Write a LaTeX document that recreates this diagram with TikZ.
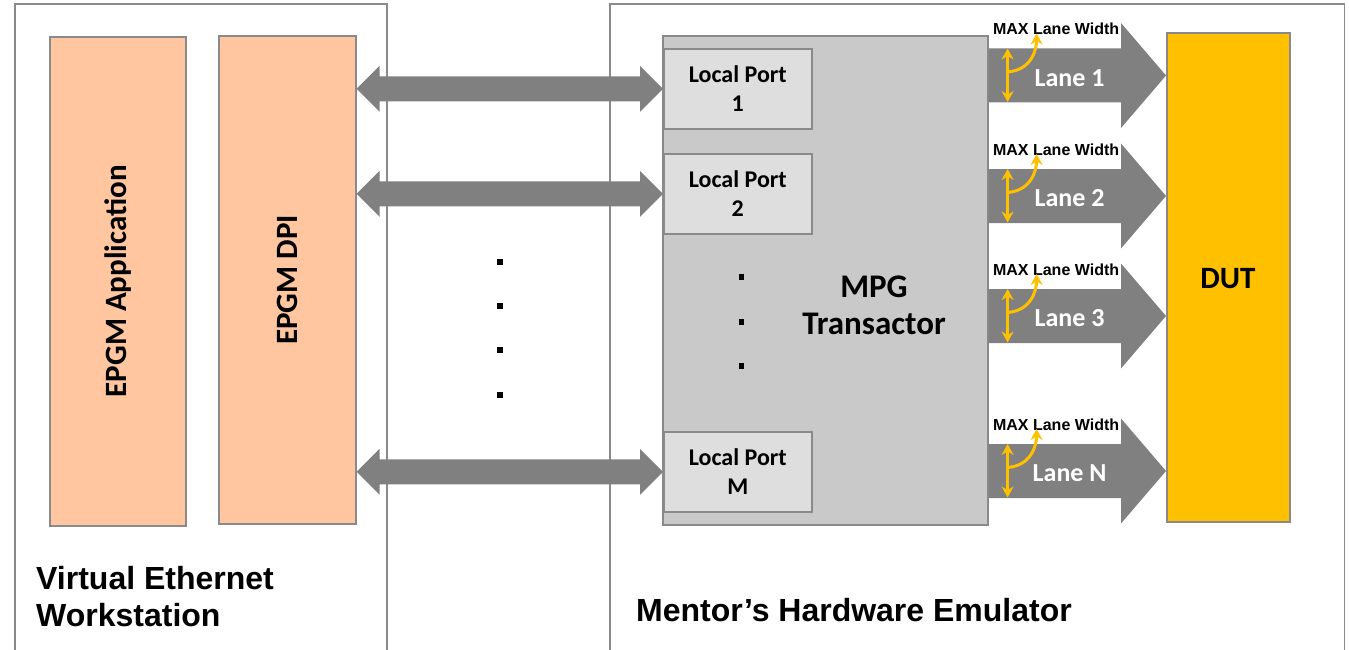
\documentclass[tikz,border=0pt]{standalone}
\usepackage{fontspec}
\setmainfont{Carlito}
\newfontfamily\arialfont{Liberation Sans}
\usetikzlibrary{arrows.meta,calc}
\definecolor{peach}{HTML}{FFC6A0}
\definecolor{mpggray}{HTML}{C9C9C9}
\definecolor{portgray}{HTML}{DEDEDE}
\definecolor{dutyellow}{HTML}{FFC000}
\definecolor{arrgray}{HTML}{808080}
\definecolor{edgegray}{HTML}{8A8A8A}

\newcommand\dblarrow[2]{%
 \fill[arrgray] (#1) -- ([shift={(23,-23)}]#1) -- ([shift={(23,-12.5)}]#1)
  -- ([shift={(-23,-12.5)}]#2) -- ([shift={(-23,-23)}]#2) -- (#2)
  -- ([shift={(-23,23)}]#2) -- ([shift={(-23,12.5)}]#2)
  -- ([shift={(23,12.5)}]#1) -- ([shift={(23,23)}]#1) -- cycle;}

\newcommand\lanearrow[2]{%
 \fill[arrgray] ([shift={(0,-27)}]#1) -- ([shift={(-45,-27)}]#2) -- ([shift={(-45,-52.5)}]#2)
  -- (#2) -- ([shift={(-45,52.5)}]#2) -- ([shift={(-45,27)}]#2) -- ([shift={(0,27)}]#1) -- cycle;}

\newcommand\lanegroup[3]{%
 \coordinate (s#1) at (mpg.east |- 0,#2);
 \coordinate (t#1) at (dut.west |- 0,#2);
 \lanearrow{s#1}{t#1}
 \node[lanetxt] (lab#1) at ([shift={(81,2.5)}]s#1) {#3};
 \node[maxtxt] (max#1) at ([shift={(67.5,-46.5)}]s#1) {MAX Lane Width};
 \coordinate (va#1) at ([shift={(19,-27)}]s#1);
 \coordinate (vb#1) at ([shift={(19,26.5)}]s#1);
 \draw[yarr,{Stealth[length=11pt,width=12pt]}-{Stealth[length=11pt,width=12pt]}] (va#1) -- (vb#1);
 \coordinate (cs#1) at ([shift={(19,-3.5)}]s#1);
 \coordinate (ce#1) at ([shift={(48,-42)}]s#1);
 \draw[yarr,-{Stealth[length=11pt,width=12pt]}] (cs#1) .. controls ([shift={(24,-2)}]cs#1) and ([shift={(0,16)}]ce#1) .. (ce#1);
}

\begin{document}
\begin{tikzpicture}[x=1pt,y=-1pt,
  frame/.style={draw=edgegray, line width=1.5pt},
  box/.style={draw=edgegray, line width=1.6pt, inner sep=0pt, anchor=north west},
  bigtxt/.style={font=\fontsize{31}{37}\selectfont\bfseries, inner sep=0pt, align=center},
  mpgtxt/.style={font=\fontsize{33}{37}\selectfont\bfseries, inner sep=0pt, align=center},
  porttxt/.style={font=\fontsize{24}{29}\selectfont\bfseries, inner sep=0pt, align=center},
  lanetxt/.style={font=\fontsize{26}{30}\selectfont\bfseries, text=white, inner sep=0pt},
  maxtxt/.style={font=\arialfont\fontsize{16}{18}\selectfont\bfseries, inner sep=0pt},
  bottomtxt/.style={font=\arialfont\fontsize{32}{37}\selectfont\bfseries, inner sep=0pt, align=left},
  dotmark/.style={fill=black, minimum size=5.5pt, inner sep=0pt},
  yarr/.style={draw=dutyellow, line width=3pt}
]
\useasboundingbox (0,0) rectangle (1349,650);

% outer frames (open at the bottom)
\draw[frame] (15,650) -- (15,4) -- (387,4) -- (387,650);
\draw[frame] (610,650) -- (610,4) -- (1344.5,4) -- (1344.5,650);

% workstation blocks
\node[box, fill=peach, minimum width=136pt, minimum height=489pt] (app) at (49,36) {};
\node[box, fill=peach, minimum width=137pt, minimum height=488pt] (dpi) at (218,35) {};
\node[bigtxt, rotate=90] (appt) at (app.center) {EPGM Application};
\node[bigtxt, rotate=90] (dpit) at (dpi.center) {EPGM DPI};

% emulator blocks
\node[box, fill=mpggray, minimum width=325pt, minimum height=489pt] (mpg) at (662,35) {};
\node[box, fill=portgray, minimum width=148pt, minimum height=80pt, porttxt] (lp1) at (663,48) {Local Port\\1};
\node[box, fill=portgray, minimum width=148pt, minimum height=80pt, porttxt] (lp2) at (663,153) {Local Port\\2};
\node[box, fill=portgray, minimum width=148pt, minimum height=80pt, porttxt] (lpm) at (663,431) {Local Port\\M};
\node[mpgtxt] (mpgt) at (874,305) {MPG\\Transactor};
\node[dotmark] (d1) at (741.5,277) {};
\node[dotmark] (d2) at (741.5,322) {};
\node[dotmark] (d3) at (741.5,366) {};

\node[box, fill=dutyellow, minimum width=123pt, minimum height=489pt] (dut) at (1166,32) {};
\node[bigtxt] (dutt) at (1228,279) {DUT};

% dots between the frames
\node[dotmark] (e1) at (500,262) {};
\node[dotmark] (e2) at (500,306) {};
\node[dotmark] (e3) at (500,350) {};
\node[dotmark] (e4) at (500,395) {};

% double arrows
\coordinate (a1) at (dpi.east |- lp1.west);
\coordinate (a2) at (dpi.east |- lp2.west);
\coordinate (a3) at (dpi.east |- lpm.west);
\dblarrow{a1}{lp1.west}
\dblarrow{a2}{lp2.west}
\dblarrow{a3}{lpm.west}

% lanes
\lanegroup{1}{75.5}{Lane 1}
\lanegroup{2}{196}{Lane 2}
\lanegroup{3}{316}{Lane 3}
\lanegroup{4}{471}{Lane N}

% bottom labels
\node[bottomtxt, anchor=west] (vew) at (36,597) {Virtual Ethernet\\Workstation};
\node[bottomtxt, anchor=west] (mhe) at (636,610) {Mentor’s Hardware Emulator};
\end{tikzpicture}
\end{document}
